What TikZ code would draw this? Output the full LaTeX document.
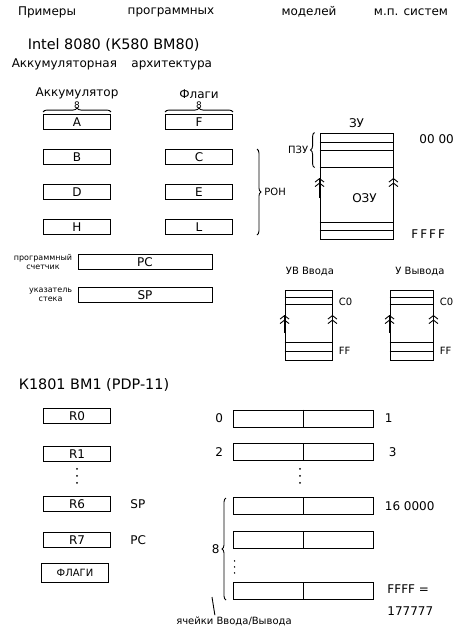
\documentclass[tikz,border=0pt]{standalone}
\usepackage{fontspec}
\setmainfont{DejaVu Sans}
\usetikzlibrary{positioning, arrows.meta, decorations.pathreplacing, calc}

\begin{document}
\begin{tikzpicture}[x=1pt, y=-1pt, line width=0.9pt, node distance=35pt,
    reg/.style={draw, minimum width=67pt, minimum height=15pt, inner sep=0pt, font=\large},
    longreg/.style={reg, minimum width=134pt},
    cell/.style={draw, minimum width=140pt, minimum height=17pt, inner sep=0pt},
    mem/.style={draw, inner sep=0pt},
    lbl/.style={inner sep=1pt, font=\large},
    note/.style={inner sep=0pt, font=\footnotesize, align=center},
    brc/.style={decorate, decoration={brace, amplitude=4pt}},
    up2/.style={-{Straight Barb[length=3.5pt,width=9pt] Straight Barb[length=3.5pt,width=9pt]}}]
  \useasboundingbox (0,0) rectangle (473,643);

  \node[font=\large] (t1) at (47,12) {Примеры};
  \node[font=\large] (t2) at (171,12) {программных};
  \node[font=\large] (t3) at (309,12) {моделей};
  \node[font=\large] (t4) at (411,12) {м.п. систем};
  \node[font=\Large, anchor=west] (cpu1) at (24,45) {Intel 8080 (К580 ВМ80)};
  \node[font=\large, anchor=west] (arch) at (8,64) {Аккумуляторная\hspace{1.2em}архитектура};

  % Intel 8080
  \node[reg] (A) at (77,122) {A};
  \node[reg] (B) [below of=A] {B};
  \node[reg] (D) [below of=B] {D};
  \node[reg] (H) [below of=D] {H};
  \node[reg] (F) at (199,122) {F};
  \node[reg] (C) [below of=F] {C};
  \node[reg] (E) [below of=C] {E};
  \node[reg] (L) [below of=E] {L};
  \draw[brc] ([yshift=2pt]A.north west) -- ([yshift=2pt]A.north east)
    node[midway, above=3pt, inner sep=0pt, font=\small] (wa) {8};
  \node[lbl, above=1pt of wa] (accl) {Аккумулятор};
  \draw[brc] ([yshift=2pt]F.north west) -- ([yshift=2pt]F.north east)
    node[midway, above=3pt, inner sep=0pt, font=\small] (wf) {8};
  \node[lbl, above=1pt of wf] (flagl) {Флаги};
  \draw[brc] ([xshift=24pt]C.north east) -- ([xshift=24pt]L.south east)
    node[midway, right=6pt, lbl, font=\normalsize] (ron) {РОН};

  \node[longreg] (PC) at (145,262) {PC};
  \node[longreg] (SP) at (145,295) {SP};
  \node[note, left=5pt of PC] (pcl) {программный\\счетчик};
  \node[note, left=5pt of SP] (spl) {указатель\\стека};

  \node[mem, minimum width=73pt, minimum height=106pt] (zu) at (356.5,186) {};
  \foreach \d in {10,18,35}
    \draw ([yshift=-\d pt]zu.north west) -- ([yshift=-\d pt]zu.north east);
  \foreach \d in {9,17}
    \draw ([yshift=\d pt]zu.south west) -- ([yshift=\d pt]zu.south east);
  \node[lbl, above=3pt of zu] (zul) {ЗУ};
  \node[lbl] (ozu) at ($(zu.center)+(8,12)$) {ОЗУ};
  \draw[brc] ([xshift=-5pt,yshift=-35pt]zu.north west) -- ([xshift=-5pt]zu.north west)
    node[midway, left=5pt, lbl, font=\normalsize] (pzu) {ПЗУ};
  \draw[up2] ($(zu.west)+(0,12)$) -- ($(zu.west)+(0,-8)$);
  \draw[up2] ($(zu.east)+(0,12)$) -- ($(zu.east)+(0,-8)$);
  \node[lbl, anchor=west] (a0) at (418,139) {00 00};
  \node[lbl, anchor=west] (af) at (410,234) {F\,F\,F\,F};

  \node[mem, minimum width=47pt, minimum height=70pt] (io1) at (308.5,325) {};
  \node[mem, minimum width=43pt, minimum height=70pt] (io2) at (411.5,325) {};
  \foreach \m in {io1, io2} {
    \foreach \d in {8,15}
      \draw ([yshift=-\d pt]\m.north west) -- ([yshift=-\d pt]\m.north east);
    \foreach \d in {9,18}
      \draw ([yshift=\d pt]\m.south west) -- ([yshift=\d pt]\m.south east);
    \draw[up2] ($(\m.west)+(0,8)$) -- ($(\m.west)+(0,-10)$);
    \draw[up2] ($(\m.east)+(0,8)$) -- ($(\m.east)+(0,-10)$);
    \node[lbl, font=\normalsize, anchor=west] at ([xshift=5pt,yshift=-12pt]\m.north east) {C0};
    \node[lbl, font=\normalsize, anchor=west] at ([xshift=5pt,yshift=10pt]\m.south east) {FF};
  }
  \node[lbl, font=\normalsize] (io1l) at (310,272) {УВ Ввода};
  \node[lbl, font=\normalsize] (io2l) at (420,272) {У Вывода};

  % K1801 BM1
  \node[font=\Large, anchor=west] (cpu2) at (15,385) {К1801 ВМ1 (PDP-11)};
  \node[reg] (R0) at (77,416) {R0};
  \node[reg] (R1) at (77,454) {R1};
  \node[reg] (R6) at (77,504) {R6};
  \node[reg] (R7) at (77,540) {R7};
  \node[reg, minimum height=19pt, font=\normalsize] (flags) at (75,573) {ФЛАГИ};
  \node[lbl, right=18pt of R6] (r6l) {SP};
  \node[lbl, right=18pt of R7] (r7l) {PC};
  \foreach \k in {0,1,2}
    \fill ($(R1.south)+(0,7+7*\k)$) circle (1pt);

  \foreach \n/\y in {c0/418.5, c1/452, c2/506, c3/540, c4/591} {
    \node[cell] (\n) at (303,\y) {};
    \draw (\n.north) -- (\n.south);
  }
  \foreach \k in {0,1,2} {
    \fill ($(c1.south)+(-3,8+7*\k)$) circle (1pt);
    \fill ($(c3.south west)+(2,12+6*\k)$) circle (0.8pt);
  }
  \node[lbl, left=8pt of c0] (n0) {0};
  \node[lbl, right=10pt of c0] (n1) {1};
  \node[lbl, left=8pt of c1] (n2) {2};
  \node[lbl, right=14pt of c1] (n3) {3};
  \node[lbl, right=10pt of c2] (n160) {16 0000};
  \node[lbl, anchor=west] (nff) at (386,589) {FFFF =};
  \node[lbl, anchor=west] (n177) at (386,611) {177777};
  \draw[brc] (226,600) -- (226,498) node[midway, left=5pt, lbl] (w8) {8};
  \node[lbl, font=\normalsize] (iol) at (234,621) {ячейки Ввода/Вывода};
  \coordinate (bk) at (212,597);
  \draw ([xshift=40pt]iol.north west) -- (bk);
\end{tikzpicture}
\end{document}
